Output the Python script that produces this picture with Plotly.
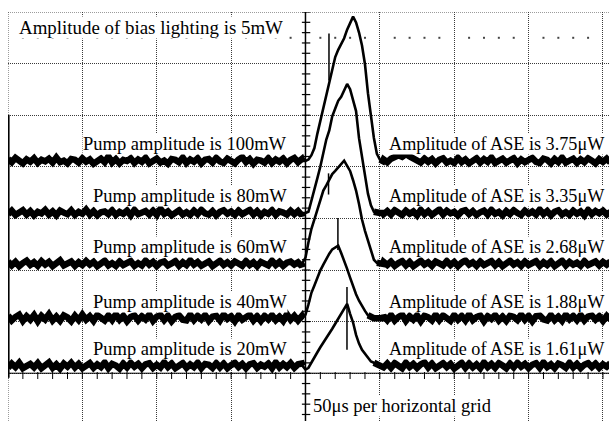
import plotly.graph_objects as go

# ---------------------------------------------------------------- data
# sampling instants in microseconds: dense on the baseline, 2 us over the pulse
T_PRE = [k * 2.5 for k in range(80)]            # 0 .. 197.5
T_PULSE = list(range(198, 254, 2))              # 198 .. 252
T_POST = [252.5 + k * 2.5 for k in range(62)]   # 252.5 .. 405

pump_power_mw = [100, 80, 60, 40, 20]
ase_amplitude_uw = [3.75, 3.35, 2.68, 1.88, 1.61]
bias_power_mw = 5
time_per_div_us = 50
uw_per_div = 1.34

# baseline readings before the pulse, in hundredths of a microwatt
base_pre_100 = [5, -3, 8, 2, -6, 4, -2, 7, -5, 3,
                -1, 6, -4, 9, -3, 1, -6, 5, 3, -4,
                7, -2, 4, -7, 2, 6, -3, 12, -4, 5,
                -6, 3, 0, 7, -5, 4, -2, 8, -6, 2,
                6, -4, 1, -7, 5, 3, -3, 9, -5, 4,
                -2, 7, -6, 3, 5, -4, 8, -1, -5, 6,
                2, -6, 4, 10, -3, 5, -7, 3, 1, -4,
                7, -5, 4, -2, 6, -6, 3, 8, -3, 5]
base_pre_80 = [-3, 6, -5, 2, 7, -4, 5, -6, 3, -1,
               8, -4, 4, -6, 6, 1, -3, 7, -5, 3,
               -2, 9, -4, 5, -6, 2, 4, -3, 7, -5,
               3, -2, 6, -6, 8, -3, 1, 5, -4, 6,
               -5, 11, -2, 4, -6, 3, 7, -4, 2, -5,
               6, -3, 8, -1, -4, 5, -6, 3, 7, -2,
               4, -5, 6, -3, 2, 8, -4, 5, -6, 3,
               -2, 7, -5, 4, 1, -4, 6, -3, 5, -6]
base_pre_60 = [6, -4, 5, -6, 2, 8, -3, 4, -5, 7,
               -2, 5, -6, 3, 9, -4, 1, 6, -5, 4,
               -3, 7, -2, 5, -6, 3, 8, -4, 2, -5,
               6, -3, 4, 7, -5, 2, -4, 8, -2, 5,
               -6, 3, 6, -4, 1, 7, -5, 4, -3, 9,
               -2, 5, -5, 3, 6, -6, 2, 8, -3, 4,
               -4, 6, 1, -5, 7, -3, 4, -6, 5, 2,
               -4, 8, -3, 5, -5, 3, 6, -2, 4, -6]
base_pre_40 = [7, -6, 3, 9, -7, 5, -4, 8, -8, 6,
               -3, 10, -6, 4, -7, 7, 2, -8, 6, -5,
               9, -4, 5, -7, 8, -2, -6, 7, -5, 10,
               -4, 6, -8, 3, 7, -6, 5, -3, 9, -7,
               4, 8, -5, 6, -8, 3, 7, -4, -6, 9,
               -5, 6, -3, 8, -7, 4, 6, -6, 9, -2,
               5, -8, 7, -4, 3, 9, -6, 5, -7, 6,
               -3, 8, -5, 4, -7, 10, -4, 6, -6, 5]
base_pre_20 = [-5, 6, -3, 8, -6, 2, 5, -4, 7, -6,
               3, 9, -5, 4, -7, 6, -2, 8, -4, 5,
               -6, 3, 7, -5, 4, -3, 9, -6, 5, 1,
               -7, 6, -4, 8, -2, 5, -6, 4, 7, -5,
               3, -4, 9, -3, 6, -6, 2, 7, -5, 4,
               -3, 8, -6, 5, 3, -5, 7, -4, 6, -6,
               2, 8, -3, 5, -6, 4, 7, -5, 3, -2,
               6, -6, 9, -4, 5, -3, 7, -5, 4, 6]

# pulse shape over T_PULSE, as a fraction of the ASE amplitude
pulse_100 = [0.00, 0.00, 0.01, 0.04, 0.09, 0.19, 0.28, 0.37, 0.47, 0.56,
             0.65, 0.72, 0.77, 0.81, 0.85, 0.91, 0.95, 1.00, 0.96, 0.89,
             0.80, 0.67, 0.47, 0.32, 0.16, 0.05, 0.01, 0.00]
pulse_80 = [0.00, 0.00, 0.01, 0.09, 0.18, 0.27, 0.36, 0.46, 0.57, 0.64,
            0.75, 0.81, 0.87, 0.90, 0.95, 1.00, 0.96, 0.88, 0.79, 0.58,
            0.43, 0.30, 0.15, 0.06, 0.01, 0.00, 0.00, 0.00]
pulse_60 = [0.01, 0.06, 0.21, 0.34, 0.43, 0.52, 0.62, 0.71, 0.76, 0.82,
            0.87, 0.90, 0.93, 0.97, 1.00, 0.95, 0.90, 0.81, 0.71, 0.58,
            0.43, 0.32, 0.22, 0.14, 0.04, 0.01, 0.00, 0.00]
pulse_40 = [0.00, 0.05, 0.19, 0.35, 0.45, 0.56, 0.66, 0.74, 0.82, 0.89,
            0.95, 0.98, 1.00, 0.90, 0.80, 0.68, 0.56, 0.44, 0.33, 0.24,
            0.16, 0.10, 0.04, 0.01, 0.00, 0.00, 0.00, 0.00]
pulse_20 = [0.00, -0.06, -0.03, 0.06, 0.14, 0.22, 0.30, 0.37, 0.45, 0.53,
            0.60, 0.68, 0.76, 0.84, 0.92, 1.00, 0.84, 0.70, 0.50, 0.36,
            0.26, 0.19, 0.12, 0.07, 0.05, 0.03, 0.01, 0.00]

# baseline readings after the pulse, in hundredths of a microwatt
base_post_100 = [4, -3, 6, 9, 15, 11, 18, 12, 8, 3,
                 -4, 6, -2, 5, -6, 3, 7, -4, 1, -5,
                 8, -3, 4, -6, 2, 7, -4, 5, -2, 9,
                 -5, 3, 6, -4, 0, 7, -6, 4, -3, 5,
                 8, -2, -5, 6, 3, -6, 5, -3, 9, -4,
                 2, 6, -5, 4, -3, 7, 1, -6, 5, -2,
                 6, -4]
base_post_80 = [-3, 5, -4, 7, 1, -5, 6, -2, 4, -6,
                8, -3, 5, -5, 2, 9, -4, 6, -1, 3,
                -6, 4, 7, -3, 5, -5, 2, 6, -4, 8,
                -2, 3, -6, 5, -3, 7, 0, -5, 6, -2,
                4, -4, 9, -3, 5, -6, 3, 7, -4, 2,
                -5, 6, -2, 4, -6, 8, -3, 5, -1, 6,
                -4, 3]
base_post_60 = [5, -3, 6, -5, 2, 7, -4, 5, -6, 3,
                8, -2, 4, -5, 6, 1, -4, 7, -3, 5,
                -6, 3, 9, -2, 4, -5, 6, -3, 2, 7,
                -4, 5, -6, 3, 8, -2, 4, -5, 6, -3,
                1, 7, -5, 4, -3, 6, -6, 2, 8, -4,
                5, -2, 3, -5, 7, -3, 4, 6, -4, 5,
                -2, 6]
base_post_40 = [6, -5, 8, -6, 3, 9, -7, 5, -4, 7,
                -8, 6, 2, -6, 9, -5, 7, -3, -7, 8,
                -4, 6, -6, 10, -5, 3, 7, -8, 5, -2,
                8, -6, 4, -7, 6, 3, -5, 9, -4, 6,
                -8, 5, 7, -3, -6, 8, -5, 4, -7, 9,
                -3, 6, -5, 8, -6, 4, 7, -4, 5, -7,
                6, -3]
base_post_20 = [-4, 6, -5, 7, 2, -6, 8, -3, 5, -5,
                4, 9, -4, 6, -6, 3, 7, -3, 5, -7,
                2, 8, -5, 6, -4, 4, -6, 9, -3, 5,
                -5, 7, 1, -6, 6, -4, 8, -2, 5, -6,
                3, 7, -5, 9, -3, 4, -6, 6, 2, -5,
                8, -4, 5, -6, 3, 7, -3, 6, -5, 4,
                -2, 7]

# isolated glitches: (time us, low uW, high uW)
spike_100 = (215.8, 2.09, 3.31)
spike_60 = (215.5, 1.80, 2.35)
spike_40 = (221.8, 1.77, 2.60)
spike_20 = (227.9, 0.42, 2.05)

# ---------------------------------------------------------------- layout
# vertical position of each trace's zero on the screen (uW)
trace_offset_uw = {100: 6.85, 80: 5.50, 60: 4.18, 40: 2.77, 20: 1.53}
X_RANGE = [0, 404.06]
Y_RANGE = [0.099, 8 * uw_per_div]
FONT = "Liberation Serif"
GRID = "#3a3a3a"
GRID_DASH = "1px,1px"

records = {
    100: (base_pre_100, pulse_100, base_post_100, spike_100),
    80: (base_pre_80, pulse_80, base_post_80, None),
    60: (base_pre_60, pulse_60, base_post_60, spike_60),
    40: (base_pre_40, pulse_40, base_post_40, spike_40),
    20: (base_pre_20, pulse_20, base_post_20, spike_20),
}

t_all = T_PRE + T_PULSE + T_POST
fig = go.Figure()

for p, ase in zip(pump_power_mw, ase_amplitude_uw):
    pre, shape, post, spike = records[p]
    assert len(pre) == len(T_PRE) and len(shape) == len(T_PULSE) and len(post) == len(T_POST)
    vals = [v / 100 for v in pre] + [f * ase for f in shape] + [v / 100 for v in post]
    off = trace_offset_uw[p]
    y = [off + v for v in vals]

    # stroke for the whole record
    fig.add_trace(go.Scatter(x=t_all, y=y, mode="lines",
                             line=dict(color="black", width=2.6), hoverinfo="skip"))

    # heavier stroke where the record sits on its noisy baseline
    i_peak = len(pre) + shape.index(max(shape))
    settled = next(i for i in range(i_peak, len(vals)) if abs(vals[i]) < 0.1)
    thick = [yy if (t < 200 or i >= settled) else None
             for i, (t, yy) in enumerate(zip(t_all, y))]
    fig.add_trace(go.Scatter(x=t_all, y=thick, mode="lines", connectgaps=False,
                             line=dict(color="black", width=6.5), hoverinfo="skip"))

    if spike:
        ts, lo, hi = spike
        fig.add_trace(go.Scatter(x=[ts, ts], y=[off + lo, off + hi], mode="lines",
                                 line=dict(color="black", width=1.5), hoverinfo="skip"))

# graticule: minor ticks on the centre vertical axis
minor_v = uw_per_div / 5
n_v = int(Y_RANGE[1] / minor_v) + 1
fig.add_trace(go.Scatter(
    x=[4 * time_per_div_us + 0.4] * n_v, y=[k * minor_v for k in range(n_v)], mode="markers",
    marker=dict(symbol="line-ew", size=6, line=dict(width=1.2, color="black")),
    hoverinfo="skip"))

# graticule: minor ticks hanging under the lowest marked horizontal line
minor_h = time_per_div_us / 5
n_h = int(8 * time_per_div_us / minor_h) + 1
fig.add_trace(go.Scatter(
    x=[k * minor_h for k in range(n_h)], y=[uw_per_div - 0.06] * n_h, mode="markers",
    marker=dict(symbol="line-ns", size=5, line=dict(width=1, color="black")),
    hoverinfo="skip"))

# graticule: row of dots half a division below the top
dots_t = [k * minor_h for k in range(n_h) if k % 5]
fig.add_trace(go.Scatter(
    x=dots_t, y=[7.5 * uw_per_div] * len(dots_t), mode="markers",
    marker=dict(symbol="square", size=2, color="#444444"), hoverinfo="skip"))

shapes = [
    # frame edges not covered by the grid
    dict(type="line", xref="paper", yref="y", x0=0, x1=1, y0=Y_RANGE[1], y1=Y_RANGE[1],
         line=dict(color=GRID, width=1, dash=GRID_DASH)),
    dict(type="line", xref="x", yref="paper", x0=0, x1=0, y0=0, y1=1,
         line=dict(color=GRID, width=1, dash=GRID_DASH)),
    # solid left marker spanning the traces
    dict(type="line", xref="x", yref="y", x0=0.4, x1=0.4, y0=1.22, y1=8.05,
         line=dict(color="black", width=2)),
    # centre vertical axis
    dict(type="line", xref="x", yref="paper", x0=4 * time_per_div_us, x1=4 * time_per_div_us,
         y0=0, y1=1, line=dict(color="black", width=1.5)),
    # marked horizontal line
    dict(type="line", xref="paper", yref="y", x0=0, x1=1, y0=uw_per_div, y1=uw_per_div,
         line=dict(color="black", width=1)),
]

annotations = [
    dict(x=6.7, y=10.33, xanchor="left", yanchor="middle",
         text=f"Amplitude of bias lighting is {bias_power_mw}mW", font_size=18.9),
    dict(x=204.4, y=0.49, xanchor="left", yanchor="middle",
         text=f"{time_per_div_us}μs per horizontal grid"),
]
for p, ase in zip(pump_power_mw, ase_amplitude_uw):
    yc = trace_offset_uw[p] + 0.43
    annotations.append(dict(x=188.2, y=yc, xanchor="right", yanchor="middle",
                            text=f"Pump amplitude is {p}mW"))
    annotations.append(dict(x=402.0, y=yc, xanchor="right", yanchor="middle",
                            text=f"Amplitude of ASE is {ase:.2f}μW", font_size=18.2))
for a in annotations:
    size = a.pop("font_size", 18.5)
    a.update(xref="x", yref="y", showarrow=False, borderpad=0, bgcolor="white",
             font=dict(family=FONT, size=size, color="black"))

axis_common = dict(showgrid=True, gridcolor=GRID, gridwidth=1, griddash=GRID_DASH,
                   zeroline=False, showline=False, showticklabels=False, ticks="")
fig.update_layout(
    width=609, height=421,
    margin=dict(l=8, r=0, t=12, b=0),
    paper_bgcolor="white", plot_bgcolor="white",
    showlegend=False,
    xaxis=dict(range=X_RANGE, tick0=0, dtick=time_per_div_us, **axis_common),
    yaxis=dict(range=Y_RANGE, tick0=0, dtick=uw_per_div, **axis_common),
    shapes=shapes,
    annotations=annotations,
)

fig.write_html("out.html")
